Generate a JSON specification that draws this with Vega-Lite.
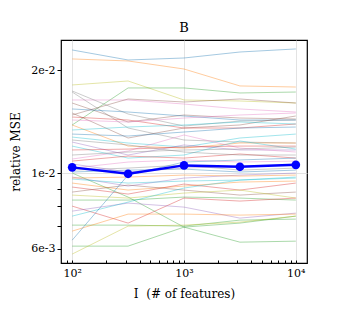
{
  "$schema": "https://vega.github.io/schema/vega-lite/v6.json",
  "autosize": "none",
  "width": 246,
  "height": 223,
  "padding": {"left": 61, "top": 40, "right": 34, "bottom": 68},
  "background": "white",
  "config": {
    "view": {"stroke": "black", "strokeWidth": 1.2},
    "font": "DejaVu Serif"
  },
  "title": {"text": "B", "font": "DejaVu Serif", "fontSize": 13, "fontWeight": "normal", "offset": 5, "color": "black"},
  "datasets": {
    "runs": [
      {"run":"a01","I":100,"mse":0.02289},{"run":"a01","I":316.23,"mse":0.02140},{"run":"a01","I":1000,"mse":0.02169},{"run":"a01","I":3162.3,"mse":0.02258},{"run":"a01","I":10000,"mse":0.02305},
      {"run":"a02","I":100,"mse":0.02155},{"run":"a02","I":316.23,"mse":0.02126},{"run":"a02","I":1000,"mse":0.02014},{"run":"a02","I":3162.3,"mse":0.01797},{"run":"a02","I":10000,"mse":0.01784},
      {"run":"a03","I":100,"mse":0.01809},{"run":"a03","I":316.23,"mse":0.01858},{"run":"a03","I":1000,"mse":0.01635},{"run":"a03","I":3162.3,"mse":0.01624},{"run":"a03","I":10000,"mse":0.01602},
      {"run":"a04","I":100,"mse":0.01382},{"run":"a04","I":316.23,"mse":0.01773},{"run":"a04","I":1000,"mse":0.01773},{"run":"a04","I":3162.3,"mse":0.01714},{"run":"a04","I":10000,"mse":0.01725},
      {"run":"a05","I":100,"mse":0.01635},{"run":"a05","I":316.23,"mse":0.01635},{"run":"a05","I":1000,"mse":0.01591},{"run":"a05","I":3162.3,"mse":0.01539},{"run":"a05","I":10000,"mse":0.01508},
      {"run":"a06","I":100,"mse":0.01478},{"run":"a06","I":316.23,"mse":0.01646},{"run":"a06","I":1000,"mse":0.01613},{"run":"a06","I":3162.3,"mse":0.01646},{"run":"a06","I":10000,"mse":0.01602},
      {"run":"a07","I":100,"mse":0.01737},{"run":"a07","I":316.23,"mse":0.01488},{"run":"a07","I":1000,"mse":0.01372},{"run":"a07","I":3162.3,"mse":0.01419},{"run":"a07","I":10000,"mse":0.01429},
      {"run":"a08","I":100,"mse":0.01725},{"run":"a08","I":316.23,"mse":0.01354},{"run":"a08","I":1000,"mse":0.01249},{"run":"a08","I":3162.3,"mse":0.01232},{"run":"a08","I":10000,"mse":0.01224},
      {"run":"a09","I":100,"mse":0.01602},{"run":"a09","I":316.23,"mse":0.01410},{"run":"a09","I":1000,"mse":0.01478},{"run":"a09","I":3162.3,"mse":0.01448},{"run":"a09","I":10000,"mse":0.01439},
      {"run":"a10","I":100,"mse":0.01539},{"run":"a10","I":316.23,"mse":0.01508},{"run":"a10","I":1000,"mse":0.01468},{"run":"a10","I":3162.3,"mse":0.01429},{"run":"a10","I":10000,"mse":0.01429},
      {"run":"a11","I":100,"mse":0.01498},{"run":"a11","I":316.23,"mse":0.01266},{"run":"a11","I":1000,"mse":0.01354},{"run":"a11","I":3162.3,"mse":0.01382},{"run":"a11","I":10000,"mse":0.01468},
      {"run":"a12","I":100,"mse":0.01458},{"run":"a12","I":316.23,"mse":0.01429},{"run":"a12","I":1000,"mse":0.01354},{"run":"a12","I":3162.3,"mse":0.01354},{"run":"a12","I":10000,"mse":0.01391},
      {"run":"a13","I":100,"mse":0.01382},{"run":"a13","I":316.23,"mse":0.01199},{"run":"a13","I":1000,"mse":0.01183},{"run":"a13","I":3162.3,"mse":0.01224},{"run":"a13","I":10000,"mse":0.01224},
      {"run":"a14","I":100,"mse":0.01274},{"run":"a14","I":316.23,"mse":0.01224},{"run":"a14","I":1000,"mse":0.01191},{"run":"a14","I":3162.3,"mse":0.01266},{"run":"a14","I":10000,"mse":0.01300},
      {"run":"a15","I":100,"mse":0.01232},{"run":"a15","I":316.23,"mse":0.01129},{"run":"a15","I":1000,"mse":0.01208},{"run":"a15","I":3162.3,"mse":0.01168},{"run":"a15","I":10000,"mse":0.01168},
      {"run":"a16","I":100,"mse":0.01199},{"run":"a16","I":316.23,"mse":0.01106},{"run":"a16","I":1000,"mse":0.01129},{"run":"a16","I":3162.3,"mse":0.01241},{"run":"a16","I":10000,"mse":0.01175},
      {"run":"a17","I":100,"mse":0.01099},{"run":"a17","I":316.23,"mse":0.01160},{"run":"a17","I":1000,"mse":0.01292},{"run":"a17","I":3162.3,"mse":0.01183},{"run":"a17","I":10000,"mse":0.01152},
      {"run":"a18","I":100,"mse":0.01084},{"run":"a18","I":316.23,"mse":0.01121},{"run":"a18","I":1000,"mse":0.01106},{"run":"a18","I":3162.3,"mse":0.01137},{"run":"a18","I":10000,"mse":0.01106},
      {"run":"a19","I":100,"mse":0.01429},{"run":"a19","I":316.23,"mse":0.01410},{"run":"a19","I":1000,"mse":0.01448},{"run":"a19","I":3162.3,"mse":0.01478},{"run":"a19","I":10000,"mse":0.01498},
      {"run":"a20","I":100,"mse":0.01336},{"run":"a20","I":316.23,"mse":0.01363},{"run":"a20","I":1000,"mse":0.01382},{"run":"a20","I":3162.3,"mse":0.01410},{"run":"a20","I":10000,"mse":0.01391},
      {"run":"a21","I":100,"mse":0.01300},{"run":"a21","I":316.23,"mse":0.01283},{"run":"a21","I":1000,"mse":0.01318},{"run":"a21","I":3162.3,"mse":0.01354},{"run":"a21","I":10000,"mse":0.01363},
      {"run":"a22","I":100,"mse":0.01168},{"run":"a22","I":316.23,"mse":0.01175},{"run":"a22","I":1000,"mse":0.01191},{"run":"a22","I":3162.3,"mse":0.01199},{"run":"a22","I":10000,"mse":0.01199},
      {"run":"a23","I":100,"mse":0.01129},{"run":"a23","I":316.23,"mse":0.01152},{"run":"a23","I":1000,"mse":0.01168},{"run":"a23","I":3162.3,"mse":0.01175},{"run":"a23","I":10000,"mse":0.01191},
      {"run":"a24","I":100,"mse":0.01034},{"run":"a24","I":316.23,"mse":0.01077},{"run":"a24","I":1000,"mse":0.01092},{"run":"a24","I":3162.3,"mse":0.01077},{"run":"a24","I":10000,"mse":0.01084},
      {"run":"a25","I":100,"mse":0.01020},{"run":"a25","I":316.23,"mse":0.01034},{"run":"a25","I":1000,"mse":0.01055},{"run":"a25","I":3162.3,"mse":0.01020},{"run":"a25","I":10000,"mse":0.01034},
      {"run":"a26","I":100,"mse":0.01007},{"run":"a26","I":316.23,"mse":0.01020},{"run":"a26","I":1000,"mse":0.01027},{"run":"a26","I":3162.3,"mse":0.01007},{"run":"a26","I":10000,"mse":0.01020},
      {"run":"a27","I":100,"mse":0.01063},{"run":"a27","I":316.23,"mse":0.01007},{"run":"a27","I":1000,"mse":0.01034},{"run":"a27","I":3162.3,"mse":0.01048},{"run":"a27","I":10000,"mse":0.01055},
      {"run":"a28","I":100,"mse":0.01000},{"run":"a28","I":316.23,"mse":0.008508},{"run":"a28","I":1000,"mse":0.006951},{"run":"a28","I":3162.3,"mse":0.006282},{"run":"a28","I":10000,"mse":0.006325},
      {"run":"a29","I":100,"mse":0.009734},{"run":"a29","I":316.23,"mse":0.009162},{"run":"a29","I":1000,"mse":0.009669},{"run":"a29","I":3162.3,"mse":0.009866},{"run":"a29","I":10000,"mse":0.01000},
      {"run":"a30","I":100,"mse":0.009604},{"run":"a30","I":316.23,"mse":0.009349},{"run":"a30","I":1000,"mse":0.009476},{"run":"a30","I":3162.3,"mse":0.009540},{"run":"a30","I":10000,"mse":0.009734},
      {"run":"a31","I":100,"mse":0.009349},{"run":"a31","I":316.23,"mse":0.008919},{"run":"a31","I":1000,"mse":0.009162},{"run":"a31","I":3162.3,"mse":0.009412},{"run":"a31","I":10000,"mse":0.009476},
      {"run":"a32","I":100,"mse":0.009101},{"run":"a32","I":316.23,"mse":0.008682},{"run":"a32","I":1000,"mse":0.009287},{"run":"a32","I":3162.3,"mse":0.008919},{"run":"a32","I":10000,"mse":0.009349},
      {"run":"a33","I":100,"mse":0.008799},{"run":"a33","I":316.23,"mse":0.009224},{"run":"a33","I":1000,"mse":0.008919},{"run":"a33","I":3162.3,"mse":0.008623},{"run":"a33","I":10000,"mse":0.008799},
      {"run":"a34","I":100,"mse":0.008623},{"run":"a34","I":316.23,"mse":0.008451},{"run":"a34","I":1000,"mse":0.008740},{"run":"a34","I":3162.3,"mse":0.008919},{"run":"a34","I":10000,"mse":0.008451},
      {"run":"a35","I":100,"mse":0.008338},{"run":"a35","I":316.23,"mse":0.008338},{"run":"a35","I":1000,"mse":0.008508},{"run":"a35","I":3162.3,"mse":0.008451},{"run":"a35","I":10000,"mse":0.008338},
      {"run":"a36","I":100,"mse":0.008007},{"run":"a36","I":316.23,"mse":0.007141},{"run":"a36","I":1000,"mse":0.008451},{"run":"a36","I":3162.3,"mse":0.008282},{"run":"a36","I":10000,"mse":0.008451},
      {"run":"a37","I":100,"mse":0.007741},{"run":"a37","I":316.23,"mse":0.008171},{"run":"a37","I":1000,"mse":0.007953},{"run":"a37","I":3162.3,"mse":0.007385},{"run":"a37","I":10000,"mse":0.007638},
      {"run":"a38","I":100,"mse":0.007485},{"run":"a38","I":316.23,"mse":0.008227},{"run":"a38","I":1000,"mse":0.009040},{"run":"a38","I":3162.3,"mse":0.009540},{"run":"a38","I":10000,"mse":0.009669},
      {"run":"a39","I":100,"mse":0.007045},{"run":"a39","I":316.23,"mse":0.007045},{"run":"a39","I":1000,"mse":0.006998},{"run":"a39","I":3162.3,"mse":0.007286},{"run":"a39","I":10000,"mse":0.007336},
      {"run":"a40","I":100,"mse":0.006767},{"run":"a40","I":316.23,"mse":0.007587},{"run":"a40","I":1000,"mse":0.007587},{"run":"a40","I":3162.3,"mse":0.007536},{"run":"a40","I":10000,"mse":0.007587},
      {"run":"a41","I":100,"mse":0.006367},{"run":"a41","I":316.23,"mse":0.009866},{"run":"a41","I":1000,"mse":0.01077},{"run":"a41","I":3162.3,"mse":0.01092},{"run":"a41","I":10000,"mse":0.01106},
      {"run":"a42","I":100,"mse":0.006116},{"run":"a42","I":316.23,"mse":0.006116},{"run":"a42","I":1000,"mse":0.006951},{"run":"a42","I":3162.3,"mse":0.007141},{"run":"a42","I":10000,"mse":0.007485},
      {"run":"a43","I":100,"mse":0.005798},{"run":"a43","I":316.23,"mse":0.006998},{"run":"a43","I":1000,"mse":0.007045},{"run":"a43","I":3162.3,"mse":0.007189},{"run":"a43","I":10000,"mse":0.007485},
      {"run":"a44","I":100,"mse":0.009669},{"run":"a44","I":316.23,"mse":0.009734},{"run":"a44","I":1000,"mse":0.009866},{"run":"a44","I":3162.3,"mse":0.009800},{"run":"a44","I":10000,"mse":0.009866},
      {"run":"a45","I":100,"mse":0.01249},{"run":"a45","I":316.23,"mse":0.01208},{"run":"a45","I":1000,"mse":0.01152},{"run":"a45","I":3162.3,"mse":0.01129},{"run":"a45","I":10000,"mse":0.01129}
    ],
    "mean": [
      {"I":100,"mse":0.01039},{"I":316.23,"mse":0.00995},{"I":1000,"mse":0.01053},{"I":3162.3,"mse":0.01043},{"I":10000,"mse":0.01057}
    ]
  },
  "layer": [
    {
      "data": {"name": "mean"},
      "mark": {"type": "line", "opacity": 0},
      "encoding": {
        "x": {"field": "I", "type": "quantitative", "scale": {"type": "log", "domain": [79.43, 12589], "nice": false},
          "axis": {"orient": "bottom", "values": [100, 1000, 10000], "grid": true, "gridColor": "#dcdcdc", "gridWidth": 0.8, "labels": false, "ticks": false, "domain": false, "title": null}},
        "y": {"field": "mse", "type": "quantitative", "scale": {"type": "log", "domain": [0.00546, 0.02448], "nice": false},
          "axis": {"orient": "left", "values": [0.01], "grid": true, "gridColor": "#dcdcdc", "gridWidth": 0.8, "labels": false, "ticks": false, "domain": false, "title": null}}
      }
    },
    {
      "data": {"name": "runs"},
      "mark": {"type": "line", "strokeWidth": 0.8, "opacity": 0.5},
      "encoding": {
        "x": {"field": "I", "type": "quantitative",
          "axis": {"orient": "bottom", "values": [90, 100, 200, 300, 400, 500, 600, 700, 800, 900, 1000, 2000, 3000, 4000, 5000, 6000, 7000, 8000, 9000, 10000],
            "labelExpr": "datum.value == 100 ? '10²' : datum.value == 1000 ? '10³' : datum.value == 10000 ? '10⁴' : ''",
            "grid": false, "domain": false, "tickSize": -3, "tickColor": "black", "labelPadding": 7, "labelOverlap": false, "labelFlush": false,
            "labelFont": "DejaVu Serif", "labelFontSize": 11, "labelColor": "black",
            "title": "I\u00a0\u00a0(# of features)", "titleFont": "DejaVu Serif", "titleFontSize": 12, "titleFontWeight": "normal", "titleColor": "black", "titlePadding": 10}},
        "y": {"field": "mse", "type": "quantitative",
          "axis": {"orient": "left", "values": [0.006, 0.007, 0.008, 0.009, 0.01, 0.02],
            "labelExpr": "abs(datum.value - 0.02) < 1e-9 ? '2e-2' : abs(datum.value - 0.01) < 1e-9 ? '1e-2' : abs(datum.value - 0.006) < 1e-9 ? '6e-3' : ''",
            "grid": false, "domain": false, "tickSize": 4, "tickColor": "black", "labelPadding": 2, "labelOverlap": false, "labelFlush": false,
            "labelFont": "DejaVu Serif", "labelFontSize": 11, "labelColor": "black",
            "title": "relative MSE", "titleFont": "DejaVu Serif", "titleFontSize": 12, "titleFontWeight": "normal", "titleColor": "black", "titlePadding": 8}},
        "color": {"field": "run", "type": "nominal", "legend": null,
          "scale": {
            "domain": ["a01","a02","a03","a04","a05","a06","a07","a08","a09","a10","a11","a12","a13","a14","a15","a16","a17","a18","a19","a20","a21","a22","a23","a24","a25","a26","a27","a28","a29","a30","a31","a32","a33","a34","a35","a36","a37","a38","a39","a40","a41","a42","a43","a44","a45"],
            "range": ["#1f77b4","#ff7f0e","#bcbd22","#2ca02c","#e377c2","#8c564b","#7f7f7f","#7f7f7f","#8c564b","#1f77b4","#8c564b","#d62728","#ff7f0e","#17becf","#9467bd","#17becf","#e377c2","#d62728","#e377c2","#17becf","#1f77b4","#d62728","#7f7f7f","#e377c2","#7f7f7f","#1f77b4","#9467bd","#2ca02c","#9467bd","#17becf","#ff7f0e","#d62728","#8c564b","#bcbd22","#2ca02c","#d62728","#9467bd","#17becf","#2ca02c","#ff7f0e","#1f77b4","#2ca02c","#bcbd22","#ff7f0e","#7f7f7f"]
          }}
      }
    },
    {
      "data": {"name": "mean"},
      "mark": {"type": "line", "color": "#0000ff", "strokeWidth": 2.5},
      "encoding": {
        "x": {"field": "I", "type": "quantitative", "axis": null},
        "y": {"field": "mse", "type": "quantitative", "axis": null}
      }
    },
    {
      "data": {"name": "mean"},
      "mark": {"type": "point", "filled": true, "color": "#0000ff", "size": 75, "opacity": 1},
      "encoding": {
        "x": {"field": "I", "type": "quantitative", "axis": null},
        "y": {"field": "mse", "type": "quantitative", "axis": null}
      }
    }
  ],
  "resolve": {"axis": {"x": "independent", "y": "independent"}}
}
